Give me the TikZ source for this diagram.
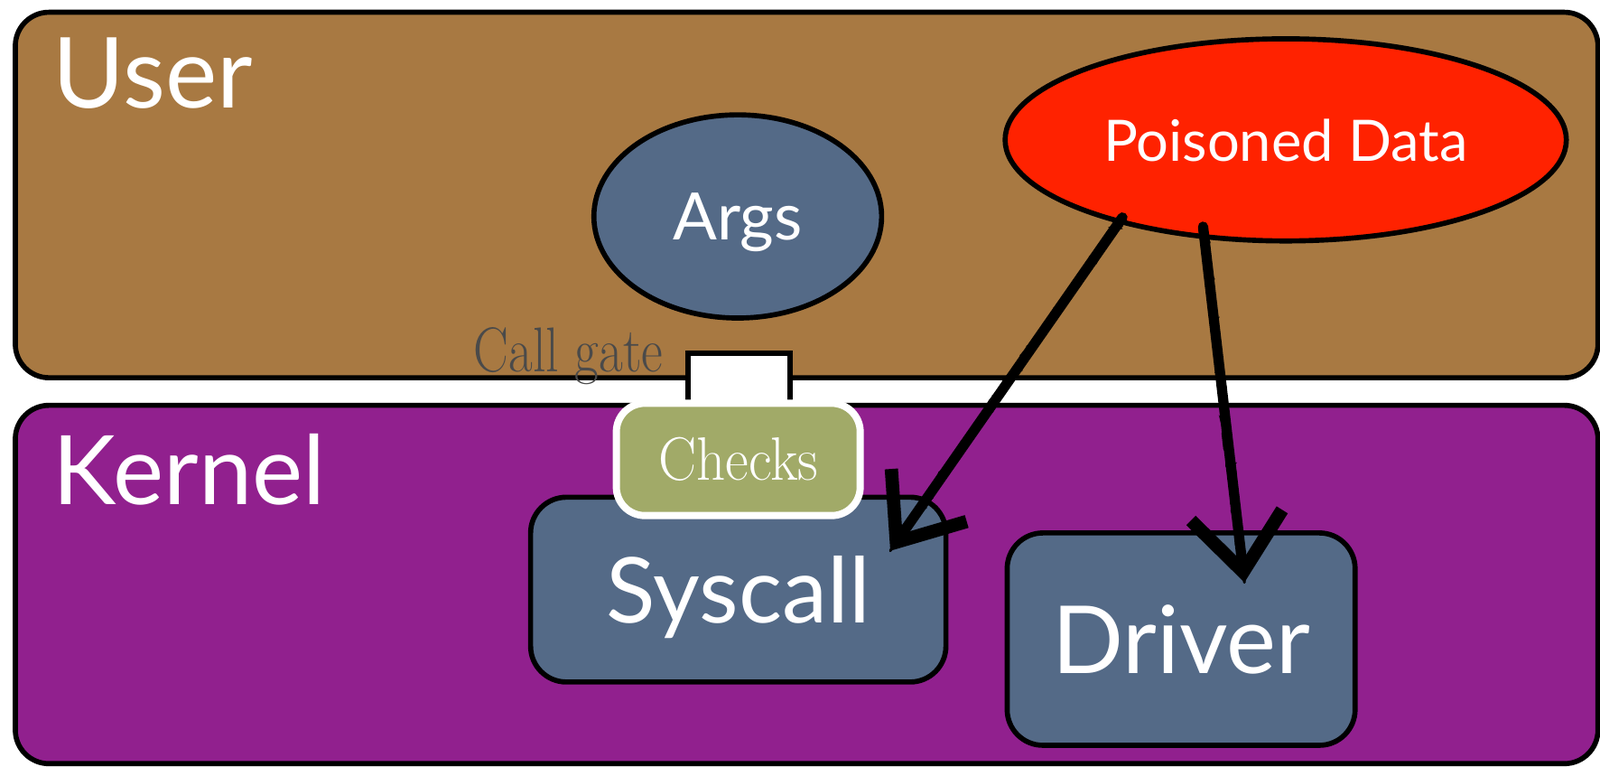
\documentclass[tikz,border=0pt]{standalone}
\usepackage{fontspec}
\usepackage{graphicx}
\usetikzlibrary{arrows.meta,calc,decorations.pathmorphing,shapes.geometric}
\newfontfamily\gill{Lato}
\definecolor{userbrown}{HTML}{A87942}
\definecolor{kernpurple}{HTML}{91208E}
\definecolor{poisonred}{HTML}{FF2200}
\definecolor{slateblue}{HTML}{546A87}
\definecolor{olivebox}{HTML}{A1AA68}
\definecolor{gatetext}{HTML}{4A4A4A}
\tikzset{
  layer/.style={draw=black, line width=5pt, rounded corners=33pt, inner sep=0pt},
  blob/.style={ellipse, draw=black, line width=5pt, inner sep=0pt, text=white, font=\gill, text depth=0pt},
  module/.style={draw=black, line width=5pt, rounded corners=35pt, fill=slateblue, inner sep=0pt, text=white, text depth=0pt},
  bigtitle/.style={text=white, inner sep=0pt, font=\gill\fontsize{96}{96}\selectfont},
  checkbox/.style={draw=white, line width=7pt, rounded corners=28pt, fill=olivebox, inner sep=0pt, text=white},
  gatebox/.style={draw=black, line width=5pt, fill=white, inner sep=0pt},
  sketcharrow/.style={draw=black, line width=10pt, line cap=round,
     -{Straight Barb[length=56pt,width=90pt,line width=13pt]},
     postaction={draw, line width=2.5pt, -, decorate, decoration={random steps, segment length=5pt, amplitude=4pt}},
     postaction={draw, line width=2pt, -, decorate, decoration={random steps, segment length=9pt, amplitude=4.5pt}}}
}
\begin{document}
\begin{tikzpicture}[x=1pt,y=-1pt]
\useasboundingbox (0,0) rectangle (1568,751);
% layers
\node[layer, fill=userbrown, minimum width=1551pt, minimum height=358pt] (user) at (790.5,191) {};
\node[layer, fill=kernpurple, minimum width=1551pt, minimum height=351pt] (kernel) at (790.5,572.5) {};
\node[bigtitle, anchor=base west] (usertxt) at (52,106) {User};
\node[bigtitle, anchor=base west] (kerneltxt) at (52,494) {\fontsize{94}{94}\selectfont Kernel};
% user space blobs
\node[blob, fill=slateblue, minimum width=282pt, minimum height=199pt] (args) at (723,212) {\fontsize{64}{64}\selectfont Args};
\node[blob, fill=poisonred, minimum width=550pt, minimum height=198pt] (pd) at (1260,137) {\fontsize{56}{56}\selectfont Poisoned Data};
% call gate
\node[text=gatetext, inner sep=0pt, anchor=base] (gatetxt) at (557,364) {\scalebox{0.83}[1]{\fontsize{62}{62}\selectfont Call gate}};
\node[gatebox, minimum width=100pt, minimum height=60pt] (gate) at (724,376) {};
% kernel modules
\node[module, minimum width=407pt, minimum height=181pt] (sys) at (723.5,577.5) {\gill\fontsize{89}{89}\selectfont Syscall};
\node[module, minimum width=341pt, minimum height=208pt] (drv) at (1157.5,626) {\gill\fontsize{92}{92}\selectfont Driver};
\node[checkbox, minimum width=239pt, minimum height=110pt] (chk) at (723.5,450) {\scalebox{0.93}[1]{\fontsize{60}{60}\selectfont Checks}};
% arrows
\draw[sketcharrow] ($(pd.center)+(-160,76)$) -- ($(sys.north east)+(-57,55)$);
\draw[sketcharrow] ($(pd.center)+(-81,85)$) -- ($(drv.north east)+(-111,51)$);
\end{tikzpicture}
\end{document}
